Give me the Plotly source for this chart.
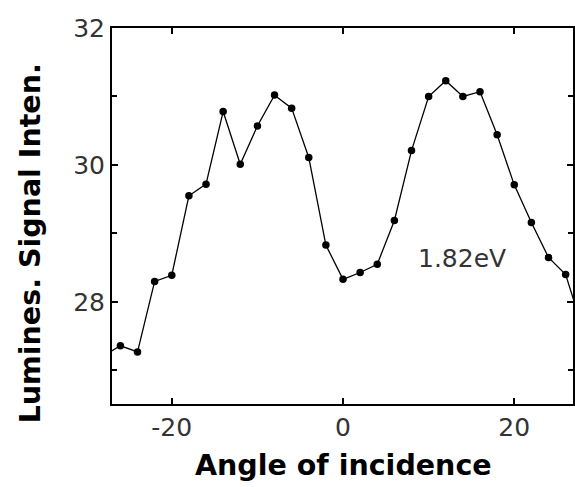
import plotly.graph_objects as go

angle = [-28, -26, -24, -22, -20, -18, -16, -14, -12, -10, -8, -6, -4, -2, 0,
         2, 4, 6, 8, 10, 12, 14, 16, 18, 20, 22, 24, 26, 28]
signal = [27.21, 27.36, 27.27, 28.30, 28.39, 29.55, 29.72, 30.78, 30.01, 30.57,
          31.02, 30.83, 30.11, 28.83, 28.33, 28.43, 28.55, 29.19, 30.21, 31.00,
          31.23, 31.00, 31.07, 30.44, 29.71, 29.16, 28.65, 28.40, 27.61]

x_ticks = [-20, 0, 20]
x_tick_labels = ["-20", "0", "20"]
y_ticks = [28, 30, 32]
y_tick_labels = ["28", "30", "32"]
y_minor = [27, 29, 31]
label_text = "1.82eV"
label_pos = (13.84, 28.64)
x_title = "Angle of incidence"
y_title = "Lumines. Signal Inten."

fig = go.Figure()
fig.add_trace(go.Scatter(
    x=angle, y=signal, mode="lines+markers",
    line=dict(color="black", width=1.3),
    marker=dict(color="black", size=7.5, symbol="circle"),
    showlegend=False,
))

fig.add_annotation(x=label_pos[0], y=label_pos[1], text=label_text,
                   showarrow=False, xanchor="center", yanchor="middle",
                   font=dict(family="DejaVu Sans", size=25, color="#333"))

title_font = dict(family="DejaVu Sans", size=28.5, color="black", weight="bold")
fig.add_annotation(xref="paper", yref="paper", x=(344.5 - 112) / 463, y=(404 - 466) / 376,
                   text=x_title, showarrow=False, xanchor="center", yanchor="middle",
                   font=title_font)
fig.add_annotation(xref="paper", yref="paper", x=(30 - 112) / 463, y=(404 - 243) / 376,
                   text=y_title, showarrow=False, xanchor="center", yanchor="middle",
                   textangle=-90, font=title_font)

tick_font = dict(family="DejaVu Sans", size=25, color="#333")

fig.update_layout(
    width=575, height=487,
    margin=dict(l=112, r=0, t=28, b=83),
    paper_bgcolor="white", plot_bgcolor="white",
    xaxis=dict(
        range=[-26.98, 26.86], tickmode="array", tickvals=x_ticks, ticktext=x_tick_labels,
        ticks="inside", ticklen=6, tickwidth=1.5, tickcolor="black",
        showline=True, linecolor="black", linewidth=2, mirror="ticks",
        showgrid=False, zeroline=False, tickfont=tick_font,
    ),
    yaxis=dict(
        range=[26.51, 32.0], tickmode="array", tickvals=y_ticks, ticktext=y_tick_labels,
        ticks="inside", ticklen=6, tickwidth=1.5, tickcolor="black",
        minor=dict(tickvals=y_minor, ticks="inside", ticklen=5, tickwidth=1.5, tickcolor="black"),
        showline=True, linecolor="black", linewidth=2, mirror="ticks",
        showgrid=False, zeroline=False, tickfont=tick_font,
    ),
)

fig.write_html("out.html")
